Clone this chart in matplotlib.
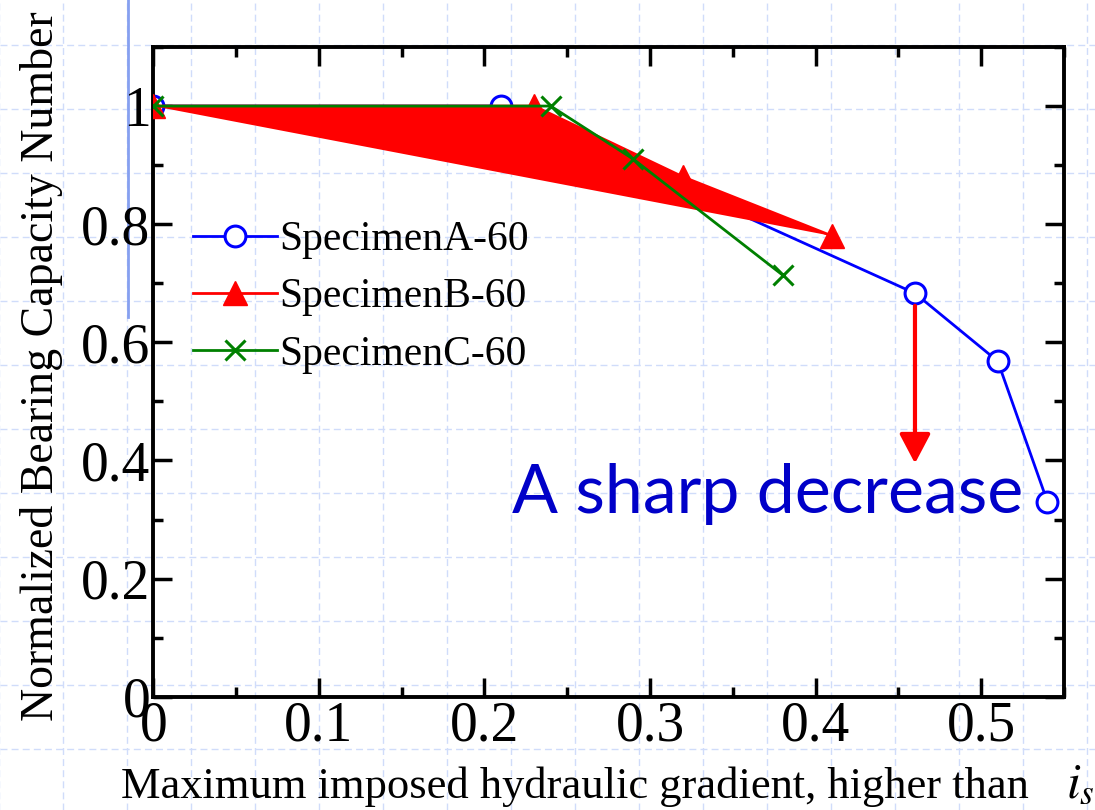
import matplotlib
matplotlib.use("Agg")
import matplotlib.pyplot as plt
from matplotlib.ticker import MultipleLocator

plt.rcParams['font.family'] = 'Liberation Serif'
plt.rcParams['mathtext.fontset'] = 'stix'

# data
a_x = [0, 0.21, 0.46, 0.51, 0.54]
a_y = [1.0, 1.0, 0.683, 0.568, 0.33]
b_x = [0, 0.23, 0.32, 0.41]
b_y = [1.0, 1.0, 0.88, 0.78]
c_x = [0, 0.24, 0.29, 0.38]
c_y = [1.0, 1.0, 0.91, 0.714]
labels = ['SpecimenA-60', 'SpecimenB-60', 'SpecimenC-60']
x_ticks = [0, 0.1, 0.2, 0.3, 0.4, 0.5]
x_ticklabels = ['0', '0.1', '0.2', '0.3', '0.4', '0.5']
y_ticks = [0, 0.2, 0.4, 0.6, 0.8, 1.0]
y_ticklabels = ['0', '0.2', '0.4', '0.6', '0.8', '1']

W, H = 1095, 810
fig = plt.figure(figsize=(W / 100, H / 100), dpi=100)

# slide-like dashed background grid
bg = fig.add_axes([0, 0, 1, 1], zorder=0)
bg.set_xlim(0, W)
bg.set_ylim(H, 0)
bg.axis('off')
gcol = '#d0dcfa'
for gx in range(-1, W, 64):
    bg.axvline(gx, color=gcol, lw=1, ls=(0, (5, 3)))
for gy in range(-19, H, 64):
    bg.axhline(gy, color=gcol, lw=1, ls=(0, (5, 3)))
bg.plot([128, 128], [0, 317], color='#86a0f0', lw=2)

ax = fig.add_axes([153.3 / W, 1 - 696.7 / H, (1064 - 153.3) / W, (696.7 - 47) / H], zorder=1)
ax.set_facecolor('none')

ax.plot(a_x, a_y, color='blue', lw=2, marker='o', ms=15, mfc='white',
        mec='blue', mew=2.2, label=labels[0], zorder=2)
ax.fill(b_x, b_y, color='red', lw=0, zorder=3)
ax.plot(b_x, b_y, color='red', lw=2, marker='^', ms=17, label=labels[1], zorder=4)
ax.plot(c_x, c_y, color='green', lw=2, marker='x', ms=15, mew=2.2,
        label=labels[2], zorder=5)

# arrow + annotation
ax.annotate('', xy=(a_x[2], 0.395), xytext=(a_x[2], a_y[2]),
            arrowprops=dict(arrowstyle='-|>,head_length=1.8,head_width=0.95',
                            mutation_scale=10, color='red', lw=3,
                            shrinkA=9, shrinkB=0), zorder=6)
ax.text(0.2167, 0.311, 'A sharp decrease', color='#0000c8', fontsize=49,
        family='Lato', va='baseline', ha='left', zorder=6)

ax.set_xlim(0, 0.55)
ax.set_ylim(0, 1.1)
ax.set_xticks(x_ticks)
ax.set_xticklabels(x_ticklabels)
ax.set_yticks(y_ticks)
ax.set_yticklabels(y_ticklabels)
ax.xaxis.set_minor_locator(MultipleLocator(0.05))
ax.yaxis.set_minor_locator(MultipleLocator(0.1))
ax.tick_params(which='both', direction='in', top=True, right=True, width=2.5)
ax.tick_params(which='major', length=14, labelsize=40)
ax.tick_params(which='minor', length=7)
ax.tick_params(axis='x', pad=3)
ax.tick_params(axis='y', pad=2)
for sp in ax.spines.values():
    sp.set_linewidth(2.8)

leg = ax.legend(loc='center left', bbox_to_anchor=(0.044, 0.615), frameon=False,
                fontsize=30, handlelength=2.0, handletextpad=0.05,
                labelspacing=0.45, borderpad=0, borderaxespad=0)

fig.text(575 / W, 1 - 787 / H, 'Maximum imposed hydraulic gradient, higher than',
         fontsize=32, ha='center', va='center')
fig.text(1080 / W, 1 - 785 / H, r'$i_s$', fontsize=36, ha='center', va='center')
fig.text(42 / W, 1 - 366 / H, 'Normalized Bearing Capacity Number', fontsize=33,
         rotation=90, ha='center', va='center')

fig.savefig('out.png', dpi=100)
